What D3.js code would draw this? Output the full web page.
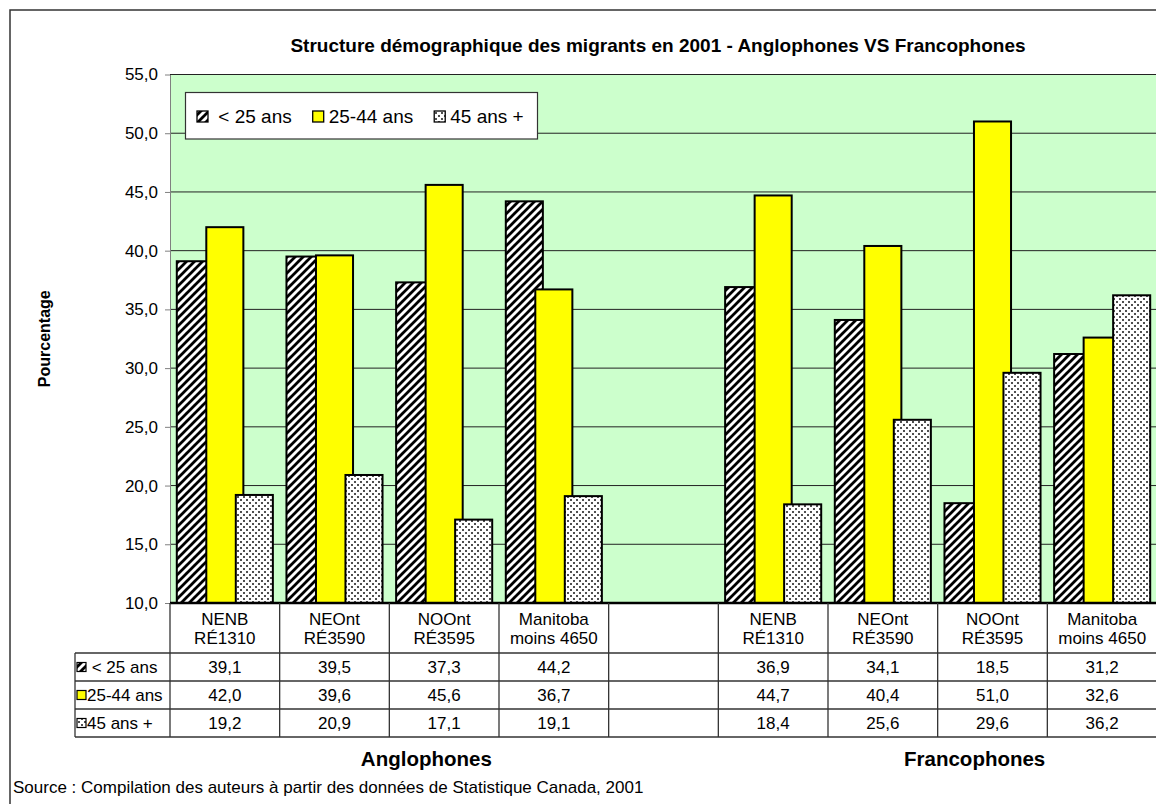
<!DOCTYPE html>
<html>
<head>
<meta charset="utf-8">
<script src="https://cdn.jsdelivr.net/npm/d3@7"></script>
<style>
    body { margin: 0; background: #fff; }
    svg text { font-family: "Liberation Sans", Arial, sans-serif; white-space: pre; }
</style>
</head>
<body>
<div id="chart"></div>
<script>
'use strict';

// data
let regions = ["NENB|RÉ1310", "NEOnt|RÉ3590", "NOOnt|RÉ3595", "Manitoba|moins 4650"],
    groups = ["Anglophones", "Francophones"],
    series = [" < 25 ans", "25-44 ans", "45 ans +"],
    anglophones = [
        [39.1, 39.5, 37.3, 44.2],
        [42.0, 39.6, 45.6, 36.7],
        [19.2, 20.9, 17.1, 19.1]
    ],
    francophones = [
        [36.9, 34.1, 18.5, 31.2],
        [44.7, 40.4, 51.0, 32.6],
        [18.4, 25.6, 29.6, 36.2]
    ],
    yTicks = [10, 15, 20, 25, 30, 35, 40, 45, 50, 55];

let W = 1156, H = 804,
    plot = {left: 170, right: 1157, top: 74.5, bottom: 603},
    tableLeft = 75, headerH = 50, rowH = 28,
    fills = ["url(#hatch)", "#FFFF00", "url(#dots)"];

let fmt = d3.formatLocale({decimal: ",", thousands: " ", grouping: [3], currency: ["", ""]}).format(".1f");
let values = [anglophones, francophones];

let svg = d3.select("#chart").append("svg")
    .attr("width", W)
    .attr("height", H);

let defs = svg.append("defs");
let hatch = defs.append("pattern")
    .attr("id", "hatch")
    .attr("patternUnits", "userSpaceOnUse")
    .attr("width", 8).attr("height", 8);
hatch.append("rect").attr("width", 8).attr("height", 8).attr("fill", "#fff");
hatch.append("path")
    .attr("d", "M-2,2 L2,-2 M0,8 L8,0 M6,10 L10,6")
    .attr("stroke", "#000")
    .attr("stroke-width", 2.8);

let dots = defs.append("pattern")
    .attr("id", "dots")
    .attr("patternUnits", "userSpaceOnUse")
    .attr("width", 6).attr("height", 6);
dots.append("rect").attr("width", 6).attr("height", 6).attr("fill", "#fff");
[[0, 1], [3, 4]].forEach(function(p) {
    dots.append("rect").attr("x", p[0]).attr("y", p[1])
        .attr("width", 2).attr("height", 2).attr("fill", "#505050");
});

// outer frame (only left and top edges fall inside the picture)
svg.append("rect")
    .attr("x", 10).attr("y", 10)
    .attr("width", W + 20).attr("height", H + 20)
    .attr("fill", "none")
    .attr("stroke", "#333")
    .attr("stroke-width", 1.5);

svg.append("text")
    .attr("x", 658).attr("y", 52)
    .attr("text-anchor", "middle")
    .style("font-size", "19px")
    .style("font-weight", "bold")
    .text("Structure démographique des migrants en 2001 - Anglophones VS Francophones");

// slots: 4 regions, an empty slot, 4 regions
let slots = [];
groups.forEach(function(g, gi) {
    if (gi > 0) slots.push({key: "gap"});
    regions.forEach(function(r, ri) {
        slots.push({key: g + ri, group: gi, region: ri, label: r});
    });
});

let x = d3.scaleBand()
    .domain(slots.map(function(d) { return d.key; }))
    .range([plot.left, plot.right]);

let y = d3.scaleLinear()
    .domain([10, 55])
    .range([plot.bottom, plot.top]);

svg.append("rect")
    .attr("x", plot.left).attr("y", plot.top)
    .attr("width", plot.right - plot.left)
    .attr("height", plot.bottom - plot.top)
    .attr("fill", "#CCFFCC");

svg.append("g")
    .selectAll("line")
    .data(yTicks.slice(1))
    .enter().append("line")
    .attr("x1", plot.left).attr("x2", plot.right)
    .attr("y1", function(d) { return y(d); })
    .attr("y2", function(d) { return y(d); })
    .attr("stroke", "#222")
    .attr("stroke-width", 1);

let yAxis = svg.append("g")
    .attr("transform", "translate(" + plot.left + ",0)")
    .call(d3.axisLeft(y).tickValues(yTicks).tickSize(5).tickSizeOuter(0).tickPadding(7).tickFormat(fmt));
yAxis.select(".domain").attr("stroke", "#808080");
yAxis.selectAll(".tick line").attr("stroke", "#808080");
yAxis.selectAll(".tick text")
    .attr("fill", "#000")
    .style("font-size", "17px")
    .style("font-family", '"Liberation Sans", Arial, sans-serif');

svg.append("text")
    .attr("transform", "translate(50," + ((plot.top + plot.bottom) / 2) + ") rotate(-90)")
    .attr("text-anchor", "middle")
    .style("font-size", "16px")
    .style("font-weight", "bold")
    .text("Pourcentage");

// bars
let bw = x.bandwidth(),
    barW = bw * 0.338,
    step = bw * 0.269,
    pad = (bw - barW - 2 * step) / 2,
    dataSlots = slots.filter(function(d) { return d.region !== undefined; });

series.forEach(function(s, si) {
    svg.append("g")
        .selectAll("rect")
        .data(dataSlots)
        .enter().append("rect")
        .attr("x", function(d) { return x(d.key) + pad + si * step; })
        .attr("y", function(d) { return y(values[d.group][si][d.region]); })
        .attr("width", barW)
        .attr("height", function(d) { return plot.bottom - y(values[d.group][si][d.region]); })
        .attr("fill", fills[si])
        .attr("stroke", "#000")
        .attr("stroke-width", 2);
});

svg.append("line")
    .attr("x1", plot.left).attr("x2", plot.right)
    .attr("y1", plot.bottom).attr("y2", plot.bottom)
    .attr("stroke", "#000")
    .attr("stroke-width", 2.5);

// legend
let legend = svg.append("g");
legend.append("rect")
    .attr("x", 185.5).attr("y", 92.5)
    .attr("width", 352).attr("height", 46.5)
    .attr("fill", "#fff")
    .attr("stroke", "#333")
    .attr("stroke-width", 1.2);
let lx = 197;
series.forEach(function(s, si) {
    legend.append("rect")
        .attr("x", lx).attr("y", 111)
        .attr("width", 11).attr("height", 11)
        .attr("fill", fills[si])
        .attr("stroke", "#000")
        .attr("stroke-width", 1.3);
    let t = legend.append("text")
        .attr("x", lx + 16).attr("y", 123)
        .style("font-size", "19px")
        .text(s);
    lx += 16 + t.node().getComputedTextLength() + 21;
});

// data table
let table = svg.append("g"),
    tableBottom = plot.bottom + headerH + rowH * series.length,
    lineColor = "#333";

slots.forEach(function(d) {
    table.append("line")
        .attr("x1", x(d.key)).attr("x2", x(d.key))
        .attr("y1", plot.bottom).attr("y2", tableBottom)
        .attr("stroke", lineColor).attr("stroke-width", 1.3);
    if (!d.label) return;
    let cx = x(d.key) + bw / 2;
    d.label.split("|").forEach(function(l, li) {
        table.append("text")
            .attr("x", cx).attr("y", 625 + li * 19)
            .attr("text-anchor", "middle")
            .style("font-size", "17px")
            .text(l);
    });
    series.forEach(function(s, si) {
        table.append("text")
            .attr("x", cx)
            .attr("y", plot.bottom + headerH + rowH * si + rowH / 2 + 6)
            .attr("text-anchor", "middle")
            .style("font-size", "17px")
            .text(fmt(values[d.group][si][d.region]));
    });
});

table.append("line")
    .attr("x1", tableLeft).attr("x2", tableLeft)
    .attr("y1", plot.bottom + headerH).attr("y2", tableBottom)
    .attr("stroke", lineColor).attr("stroke-width", 1.3);

d3.range(series.length + 1).forEach(function(i) {
    let ly = plot.bottom + headerH + rowH * i;
    table.append("line")
        .attr("x1", tableLeft).attr("x2", plot.right)
        .attr("y1", ly).attr("y2", ly)
        .attr("stroke", lineColor).attr("stroke-width", 1.3);
});

series.forEach(function(s, si) {
    let cy = plot.bottom + headerH + rowH * si + rowH / 2;
    table.append("rect")
        .attr("x", 77).attr("y", cy - 4.5)
        .attr("width", 9).attr("height", 9)
        .attr("fill", fills[si])
        .attr("stroke", "#000")
        .attr("stroke-width", 1.2);
    table.append("text")
        .attr("x", 87).attr("y", cy + 6)
        .style("font-size", "17px")
        .text(s);
});

// group labels under the table
groups.forEach(function(g, gi) {
    let first = x(g + 0),
        last = x(g + (regions.length - 1)) + bw;
    svg.append("text")
        .attr("x", (first + last) / 2 + 37)
        .attr("y", 766)
        .attr("text-anchor", "middle")
        .style("font-size", "20.5px")
        .style("font-weight", "bold")
        .text(g);
});

svg.append("text")
    .attr("x", 13).attr("y", 793)
    .style("font-size", "17px")
    .text("Source : Compilation des auteurs à partir des données de Statistique Canada, 2001");
</script>
</body>
</html>
